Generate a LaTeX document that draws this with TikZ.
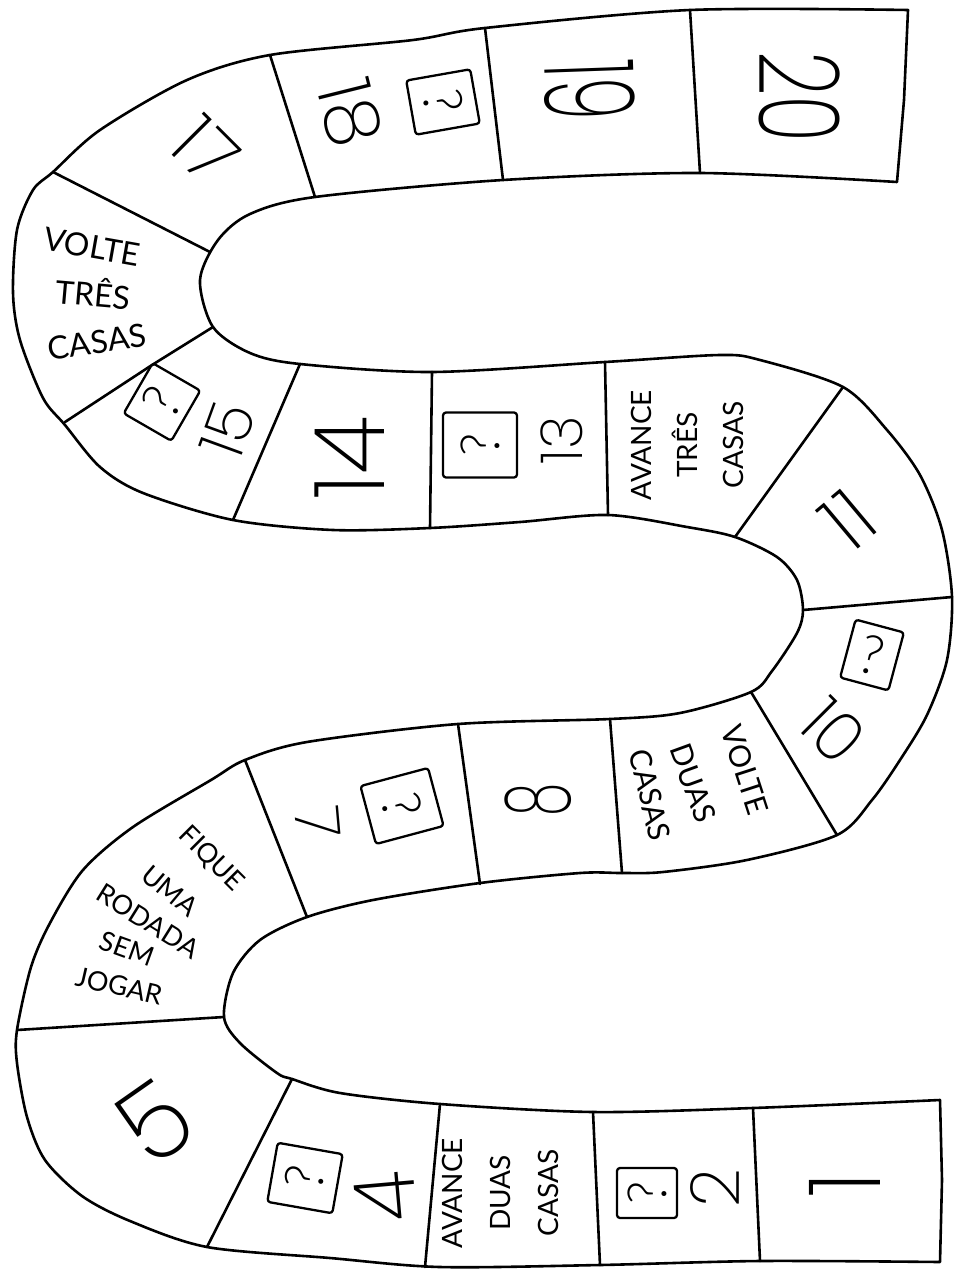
\documentclass[tikz,border=0pt]{standalone}
\usepackage{fontspec}
\setmainfont{Lato}
\IfFontExistsTF{Poppins ExtraLight}{\newfontfamily\numfont{Poppins ExtraLight}}{%
 \IfFontExistsTF{Fira Sans ExtraLight}{\newfontfamily\numfont{Fira Sans ExtraLight}}{%
  \IfFontExistsTF{Open Sans Light}{\newfontfamily\numfont{Open Sans Light}}{%
   \IfFontExistsTF{Lato Light}{\newfontfamily\numfont{Lato Light}}{%
    \newfontfamily\numfont{Open Sans}}}}}
\IfFontExistsTF{Lato Light}{\newfontfamily\qfont{Lato Light}}{\newfontfamily\qfont{Open Sans}}
\newcommand{\myfs}[2]{\fontsize{#1}{#2}\selectfont}
\begin{document}
\begin{tikzpicture}[x=1pt,y=-1pt,line join=round,line cap=round,
  bline/.style={line width=2.6pt},
  num/.style={inner sep=0pt},
  lbl/.style={inner sep=0pt,align=center},
  qbox/.style={draw,line width=2.3pt,rounded corners=3pt,inner sep=0pt,font=\qfont\myfs{54}{54}}]
\fill[white] (0,0) rectangle (956,1269);
\useasboundingbox (0,0) rectangle (956,1269);

% outline of the track
\draw[bline] plot[smooth,tension=0.5] coordinates {
 (940,1262) (760,1261) (600,1265) (440,1267) (330,1258) (207,1247) (130,1221) (82,1196)
 (45,1160) (27,1117) (17,1063) (17,1030) (31,967) (50,923) (83,870) (133,827) (211,780)
 (245,760) (307,742) (458,724) (610,719) (680,713) (751,692) (772,671) (797,633) (803,610)
 (797,580) (777,557) (735,537) (687,527) (608,515) (520,522) (430,528) (333,530) (233,520)
 (143,493) (100,467) (65,425) (43,398) (20,340) (13,293) (17,230) (33,190) (53,172)
 (100,130) (187,80) (270,55) (413,40) (485,28) (690,10) (908,10)}
 -- (904,100) --
 plot[smooth,tension=0.5] coordinates {
 (897,182) (700,173) (503,180) (315,197) (250,214) (218,240) (200,280) (213,327)
 (250,353) (300,364) (432,372) (605,362) (720,355) (760,360) (843,387) (887,430) (920,475)
 (942,530) (952,597) (947,660) (927,715) (900,760) (872,800) (837,835) (747,860) (663,872)
 (622,873) (580,873) (480,883) (373,900) (307,917) (260,940) (233,973) (224,1017) (240,1043)
 (277,1073) (292,1079) (340,1093) (440,1104) (593,1112) (753,1108) (940,1100)}
 -- (942,1180) -- cycle;

% dividers between squares
\draw[bline] (753,1108) -- (760,1261);
\draw[bline] (593,1112) -- (600,1265);
\draw[bline] (440,1104) -- (425,1267);
\draw[bline] (292,1079) -- (207,1247);
\draw[bline] (224,1017) -- (17,1030);
\draw[bline] (245,760) -- (307,917);
\draw[bline] (458,724) -- (480,884);
\draw[bline] (610,719) -- (622,873);
\draw[bline] (751,692) -- (837,835);
\draw[bline] (803,610) -- (952,597);
\draw[bline] (735,537) -- (843,387);
\draw[bline] (605,362) -- (608,515);
\draw[bline] (432,372) -- (430,528);
\draw[bline] (300,364) -- (233,520);
\draw[bline] (213,327) -- (152,365) -- (65,422);
\draw[bline] (53,172) -- (210,252);
\draw[bline] (270,55) -- (315,197);
\draw[bline] (485,28) -- (503,180);
\draw[bline] (690,10) -- (700,173);

% numbers
\node[num,rotate=90,font=\numfont\myfs{100}{100}] (n1) at (845,1185) {1};
\node[num,rotate=90,font=\numfont\myfs{68}{68}] (n2) at (715,1188) {2};
\node[num,rotate=95,font=\numfont\myfs{85}{85}] (n4) at (385,1197) {4};
\node[num,rotate=35,font=\numfont\myfs{105}{105}] (n5) at (155,1122) {5};
\node[num,rotate=-85,font=\numfont\myfs{62}{62}] (n7) at (318,823) {7};
\node[num,rotate=90,xscale=0.6,font=\numfont\myfs{90}{90}] (n8) at (538,800) {8};
\node[num,rotate=-45,font=\numfont\myfs{68}{68}] (n10) at (833,731) {10};
\node[num,rotate=40,font=\numfont\myfs{80}{80}] (n11) at (848,520) {11};
\node[num,rotate=90,font=\numfont\myfs{58}{58}] (n13) at (562,440) {13};
\node[num,rotate=90,font=\numfont\myfs{98}{98}] (n14) at (350,458) {14};
\node[num,rotate=70,font=\numfont\myfs{62}{62}] (n15) at (228,430) {15};
\node[num,rotate=-45,font=\numfont\myfs{75}{75}] (n17) at (205,150) {17};
\node[num,rotate=-76,font=\numfont\myfs{75}{75}] (n18) at (350,113) {18};
\node[num,rotate=-88,xscale=0.55,font=\numfont\myfs{125}{125}] (n19) at (590,90) {19};
\node[num,rotate=-90,xscale=0.7,font=\numfont\myfs{112}{112}] (n20) at (800,97) {20};

% question boxes
\node[qbox,rotate=90,minimum width=50pt,minimum height=60pt] (q2) at (647,1193) {?};
\node[qbox,rotate=80,minimum width=60pt,minimum height=66pt] (q4) at (305,1178) {?};
\node[qbox,rotate=-75,minimum width=60pt,minimum height=70pt] (q7) at (402,806) {?};
\node[qbox,rotate=-15,minimum width=50pt,minimum height=60pt] (q10) at (872,655) {?};
\node[qbox,rotate=90,minimum width=65pt,minimum height=74pt] (q13) at (480,445) {?};
\node[qbox,rotate=60,minimum width=58pt,minimum height=55pt] (q15) at (162,402) {?};
\node[qbox,rotate=-80,minimum width=55pt,minimum height=65pt] (q18) at (443,102) {?};

% instruction labels
\node[lbl,rotate=90,font=\myfs{28}{48}] (t3) at (500,1193) {AVANCE\\DUAS\\CASAS};
\node[lbl,rotate=-45,font=\myfs{27}{27}] (t6a) at (211,859) {FIQUE};
\node[lbl,rotate=-40,font=\myfs{27}{27}] (t6b) at (170,891) {UMA};
\node[lbl,rotate=-32,font=\myfs{27}{27}] (t6c) at (148,921) {RODADA};
\node[lbl,rotate=-20,font=\myfs{27}{27}] (t6d) at (127,949) {SEM};
\node[lbl,rotate=-13,font=\myfs{27}{27}] (t6e) at (119,986) {JOGAR};
\node[lbl,rotate=-72,font=\myfs{30}{30}] (t9a) at (745,770) {VOLTE};
\node[lbl,rotate=-70,font=\myfs{30}{30}] (t9b) at (693,783) {DUAS};
\node[lbl,rotate=-76,font=\myfs{30}{30}] (t9c) at (650,795) {CASAS};
\node[lbl,rotate=90,font=\myfs{28}{46}] (t12) at (687,445) {AVANCE\\TRÊS\\CASAS};
\node[lbl,rotate=-10,font=\myfs{32}{32}] (t16a) at (92,247) {VOLTE};
\node[lbl,rotate=-5,font=\myfs{32}{32}] (t16b) at (93,292) {TRÊS};
\node[lbl,rotate=8,font=\myfs{32}{32}] (t16c) at (97,342) {CASAS};
\end{tikzpicture}
\end{document}
